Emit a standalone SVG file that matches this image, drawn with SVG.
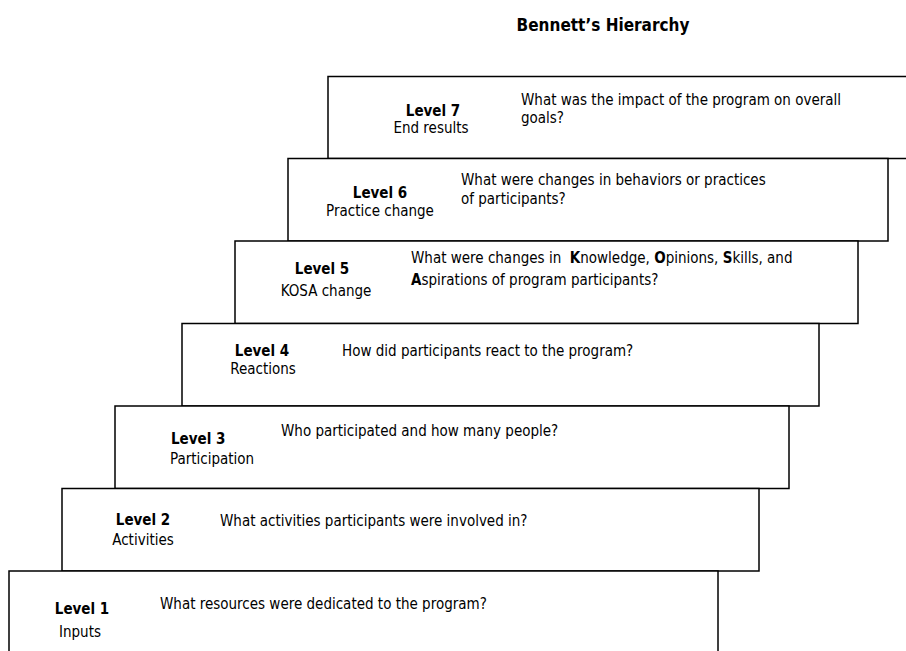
<svg xmlns="http://www.w3.org/2000/svg" width="906" height="651" viewBox="0 0 906 651">
<style>
.box{fill:#fff;stroke:#000;stroke-width:1.5}
text{font-family:"DejaVu Sans Condensed","DejaVu Sans",sans-serif;font-size:15px;fill:#000}
.lv{font-weight:bold;text-anchor:middle}
.nm{text-anchor:middle}
.b{font-weight:bold}
.title{font-weight:bold;font-size:17px;text-anchor:middle}
</style>
<rect width="906" height="651" fill="#fff"/>
<text class="title" x="603" y="31">Bennett’s Hierarchy</text>
<g id="level7">
<rect class="box" x="328" y="76.5" width="600" height="82"/>
<text class="lv" x="433" y="116">Level 7</text>
<text class="nm" x="431" y="133">End results</text>
<text x="521" y="105">What was the impact of the program on overall</text>
<text x="521" y="123">goals?</text>
</g>
<g id="level6">
<rect class="box" x="288" y="158.5" width="600" height="82.5"/>
<text class="lv" x="380" y="198">Level 6</text>
<text class="nm" x="380" y="216">Practice change</text>
<text x="461" y="185">What were changes in behaviors or practices</text>
<text x="461" y="204">of participants?</text>
</g>
<g id="level5">
<rect class="box" x="235" y="241" width="623" height="82.5"/>
<text class="lv" x="322" y="274">Level 5</text>
<text class="nm" x="326" y="296">KOSA change</text>
<text x="411" y="263" xml:space="preserve">What were changes in  <tspan class="b">K</tspan>nowledge, <tspan class="b">O</tspan>pinions, <tspan class="b">S</tspan>kills, and</text>
<text x="411" y="285"><tspan class="b">A</tspan>spirations of program participants?</text>
</g>
<g id="level4">
<rect class="box" x="182" y="323.5" width="637" height="82.5"/>
<text class="lv" x="262" y="356">Level 4</text>
<text class="nm" x="263" y="374">Reactions</text>
<text x="342" y="356">How did participants react to the program?</text>
</g>
<g id="level3">
<rect class="box" x="115" y="406" width="674" height="82.5"/>
<text x="171" y="444" class="b">Level 3</text>
<text x="170" y="464">Participation</text>
<text x="281" y="436">Who participated and how many people?</text>
</g>
<g id="level2">
<rect class="box" x="62" y="488.5" width="697" height="82.5"/>
<text class="lv" x="143" y="525">Level 2</text>
<text class="nm" x="143" y="545">Activities</text>
<text x="220" y="526">What activities participants were involved in?</text>
</g>
<g id="level1">
<rect class="box" x="9" y="571" width="709" height="100"/>
<text class="lv" x="82" y="614">Level 1</text>
<text class="nm" x="80" y="637">Inputs</text>
<text x="160" y="609">What resources were dedicated to the program?</text>
</g>
<g id="connectors"/>
</svg>
